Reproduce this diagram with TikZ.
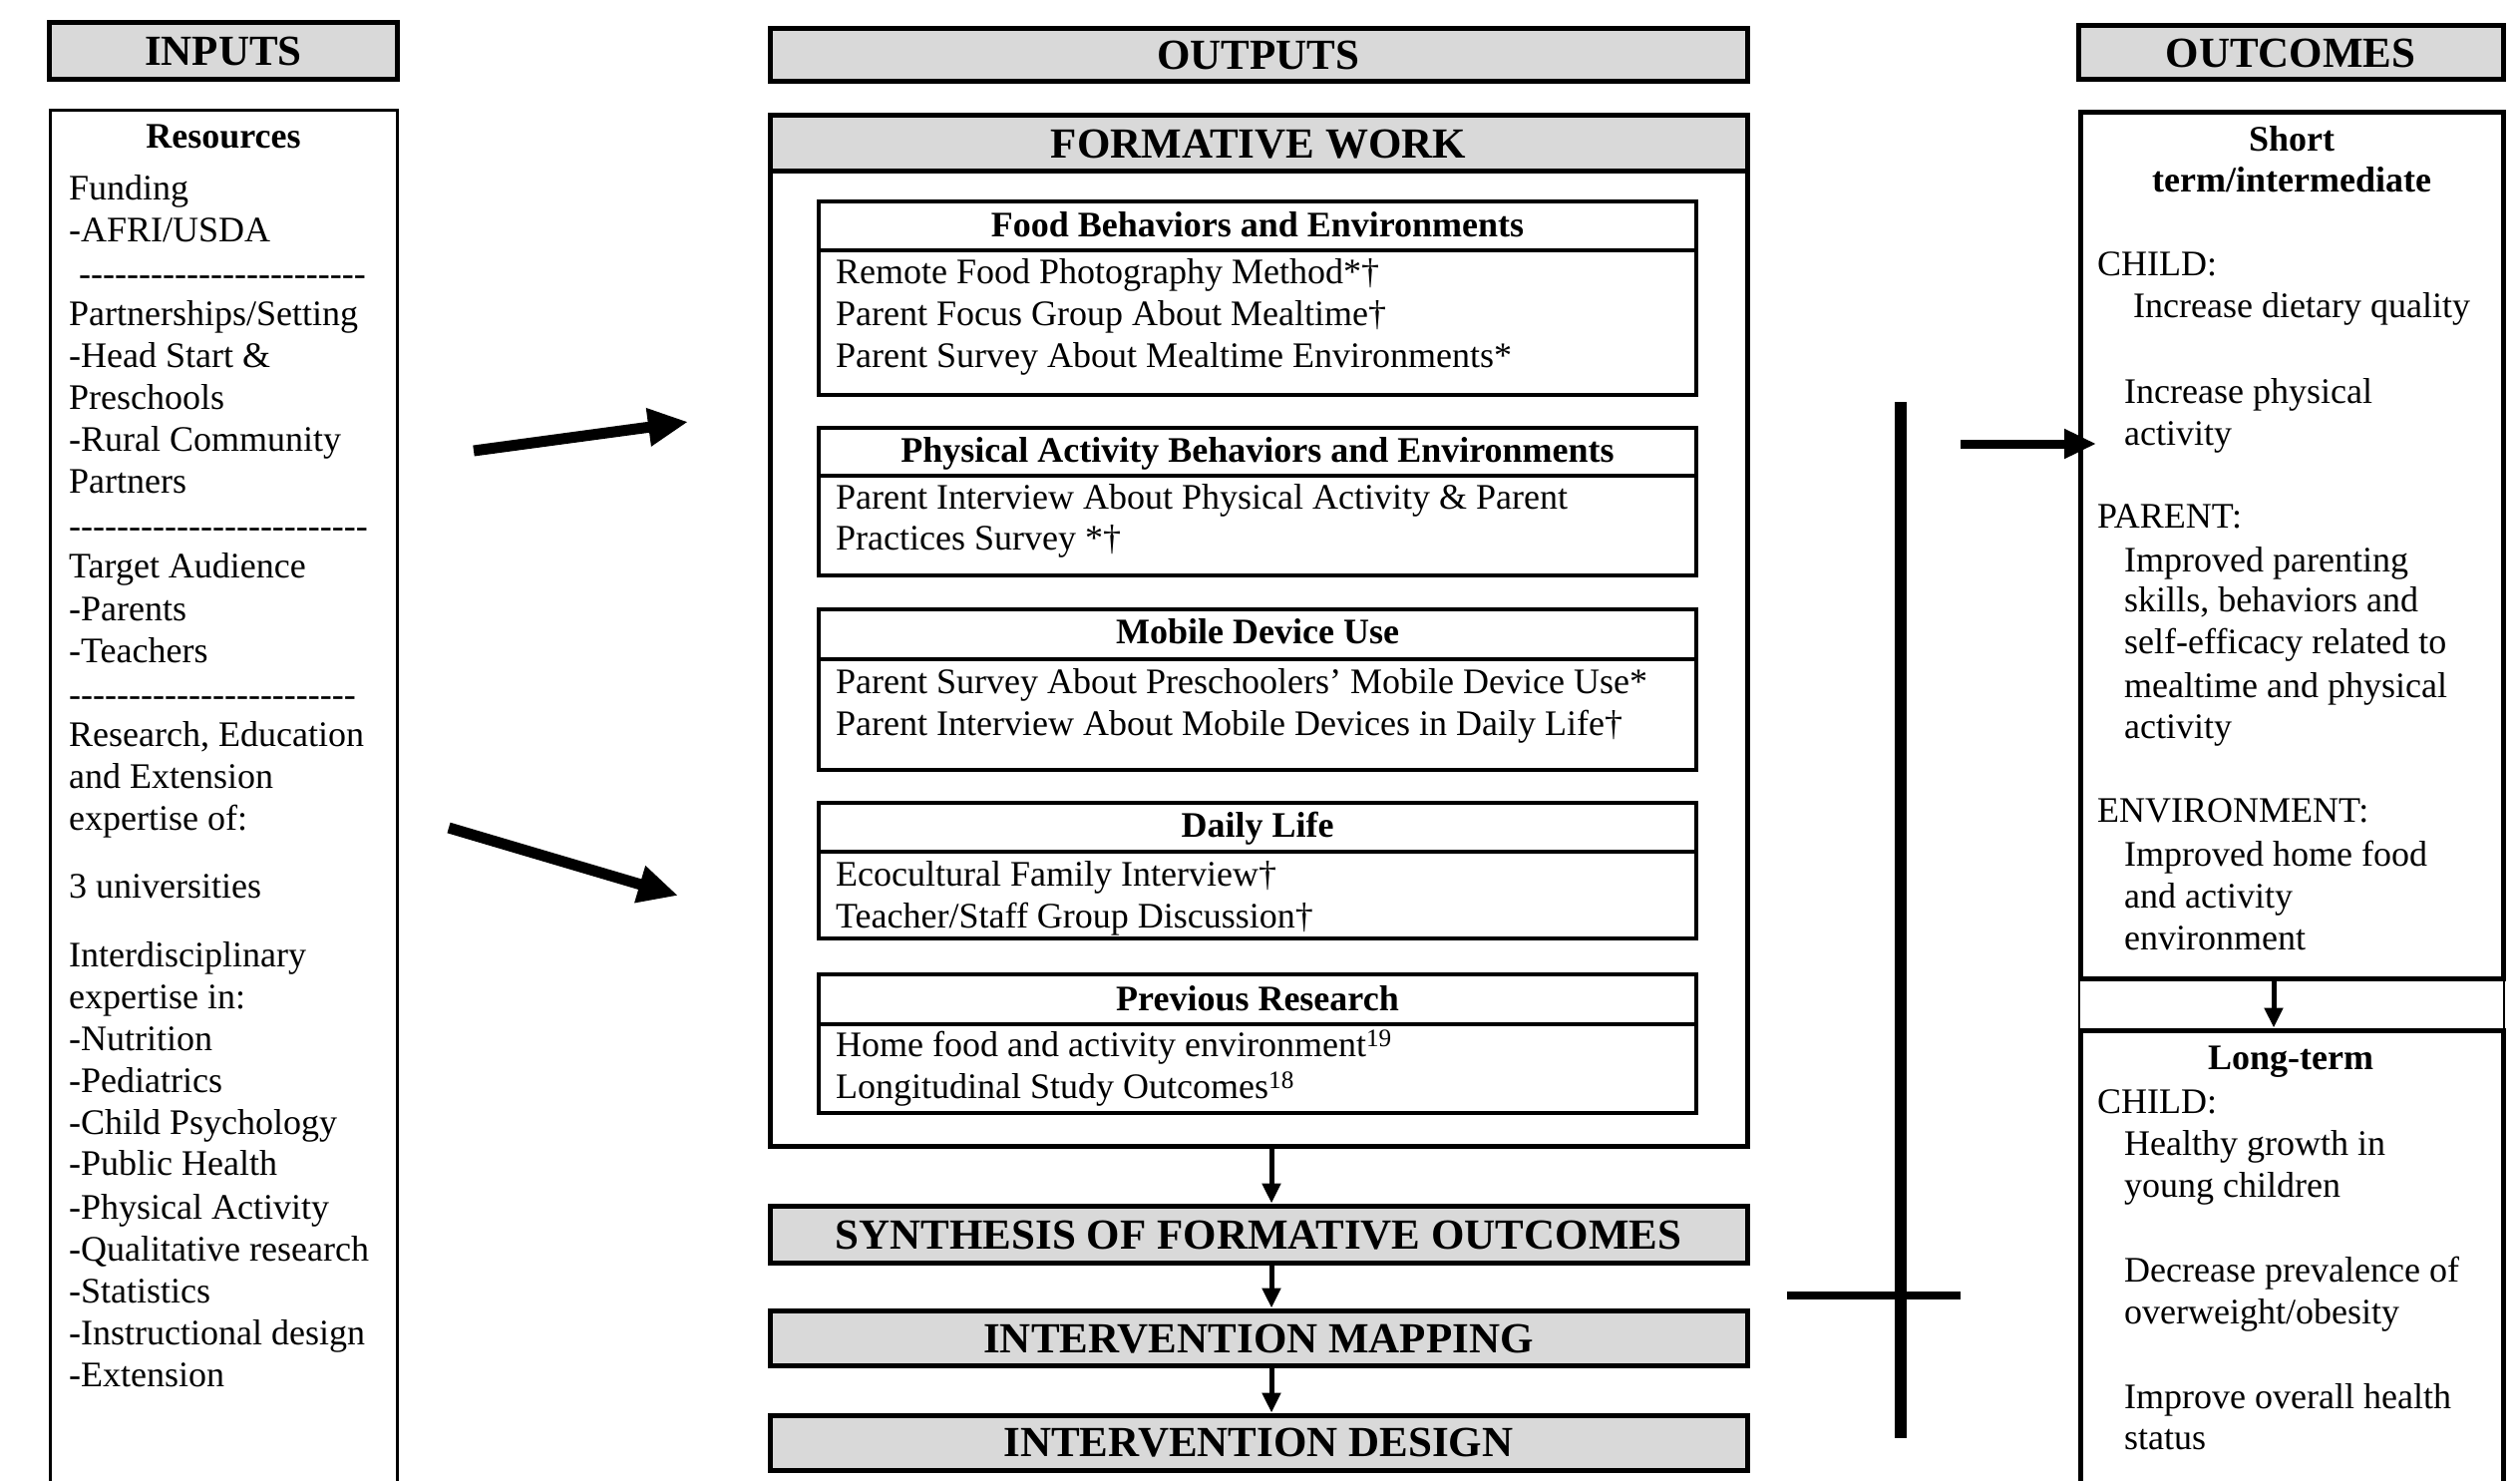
\documentclass[tikz,border=0pt]{standalone}
\usepackage{fontspec}
\setmainfont{Liberation Serif}[Ligatures=TeXOff]
\usetikzlibrary{arrows.meta}
\definecolor{hgray}{RGB}{217,217,217}
\newcommand\BOX[6]{\node[#2, minimum width={(#5)-(#3)}, minimum height={(#6)-(#4)}] (#1) at ({((#3)+(#5))/2},{((#4)+(#6))/2}) {};}
\newcommand\TL[3]{\node[txt] (#1) at #2 {#3};}
\begin{document}
\begin{tikzpicture}[x=1pt,y=-1pt,
  txt/.style={font=\fontsize{36}{42}\selectfont, inner sep=0pt, anchor=base west},
  btxt/.style={font=\fontsize{36}{42}\selectfont\bfseries, inner sep=0pt, anchor=base},
  htxt/.style={font=\fontsize{43}{50}\selectfont\bfseries, inner sep=0pt, anchor=base},
  hbox/.style={draw, line width=5pt, fill=hgray, inner sep=0pt},
  obox/.style={draw, line width=5pt, inner sep=0pt},
  sbox/.style={draw, line width=4pt, inner sep=0pt},
  bigarr/.style={line width=11pt, -{Triangle[length=40pt,width=36pt]}},
  midarr/.style={line width=9pt, -{Triangle[length=32pt,width=28pt]}},
  smarr/.style={line width=5pt, -{Triangle[length=20pt,width=18pt]}},
]
\useasboundingbox[fill=white] (0,0) rectangle (2527,1485);

% ---------------- INPUTS ----------------
\BOX{inh}{hbox}{49}{23}{398}{80}
\node[htxt] (inT) at (224,66) {INPUTS};
\BOX{res}{obox,line width=3pt}{50}{111}{398}{1530}
\node[btxt] (resT) at (224,149) {Resources};
\TL{i1}{(69,200)}{Funding}
\TL{i2}{(69,242)}{-AFRI/USDA}
\TL{d1}{(79,286)}{------------------------}
\TL{i3}{(69,326)}{Partnerships/Setting}
\TL{i4}{(69,368)}{-Head Start \&}
\TL{i5}{(69,410)}{Preschools}
\TL{i6}{(69,452)}{-Rural Community}
\TL{i7}{(69,494)}{Partners}
\TL{d2}{(69,539)}{-------------------------}
\TL{i8}{(69,579)}{Target Audience}
\TL{i9}{(69,622)}{-Parents}
\TL{i10}{(69,664)}{-Teachers}
\TL{d3}{(69,708)}{------------------------}
\TL{i11}{(69,748)}{Research, Education}
\TL{i12}{(69,790)}{and Extension}
\TL{i13}{(69,832)}{expertise of:}
\TL{i14}{(69,900)}{3 universities}
\TL{i15}{(69,969)}{Interdisciplinary}
\TL{i16}{(69,1011)}{expertise in:}
\TL{i17}{(69,1053)}{-Nutrition}
\TL{i18}{(69,1095)}{-Pediatrics}
\TL{i19}{(69,1137)}{-Child Psychology}
\TL{i20}{(69,1178)}{-Public Health}
\TL{i21}{(69,1222)}{-Physical Activity}
\TL{i22}{(69,1264)}{-Qualitative research}
\TL{i23}{(69,1306)}{-Statistics}
\TL{i24}{(69,1348)}{-Instructional design}
\TL{i25}{(69,1390)}{-Extension}

% ---------------- OUTPUTS ----------------
\BOX{outh}{hbox}{772}{29}{1752}{82}
\node[htxt] (outT) at (1262,70) {OUTPUTS};
\BOX{fwh}{hbox}{772}{116}{1752}{171}
\BOX{fw}{obox}{772}{116}{1752}{1149}
\node[htxt] (fwT) at (1262,158) {FORMATIVE WORK};

\BOX{foodT}{sbox}{821}{202}{1701}{251}
\BOX{foodB}{sbox}{821}{251}{1701}{396}
\node[btxt] (foodH) at (1261,237) {Food Behaviors and Environments};
\TL{f1}{(838,284)}{Remote Food Photography Method*†}
\TL{f2}{(838,326)}{Parent Focus Group About Mealtime†}
\TL{f3}{(838,368)}{Parent Survey About Mealtime Environments*}

\BOX{paT}{sbox}{821}{429}{1701}{477}
\BOX{paB}{sbox}{821}{477}{1701}{577}
\node[btxt] (paH) at (1261,463) {Physical Activity Behaviors and Environments};
\TL{p1}{(838,510)}{Parent Interview About Physical Activity \& Parent}
\TL{p2}{(838,551)}{Practices Survey *†}

\BOX{mdT}{sbox}{821}{611}{1701}{661}
\BOX{mdB}{sbox}{821}{661}{1701}{772}
\node[btxt] (mdH) at (1261,645) {Mobile Device Use};
\TL{m1}{(838,695)}{Parent Survey About Preschoolers’ Mobile Device Use*}
\TL{m2}{(838,737)}{Parent Interview About Mobile Devices in Daily Life†}

\BOX{dlT}{sbox}{821}{805}{1701}{854}
\BOX{dlB}{sbox}{821}{854}{1701}{941}
\node[btxt] (dlH) at (1261,839) {Daily Life};
\TL{l1}{(838,888)}{Ecocultural Family Interview†}
\TL{l2}{(838,930)}{Teacher/Staff Group Discussion†}

\BOX{prT}{sbox}{821}{977}{1701}{1027}
\BOX{prB}{sbox}{821}{1027}{1701}{1116}
\node[btxt] (prH) at (1261,1013) {Previous Research};
\TL{r1}{(838,1059)}{Home food and activity environment\textsuperscript{19}}
\TL{r2}{(838,1101)}{Longitudinal Study Outcomes\textsuperscript{18}}

\BOX{syn}{hbox}{772}{1209}{1752}{1266}
\node[htxt] (synT) at (1262,1252) {SYNTHESIS OF FORMATIVE OUTCOMES};
\BOX{map}{hbox}{772}{1314}{1752}{1369}
\node[htxt] (mapT) at (1262,1356) {INTERVENTION MAPPING};
\BOX{des}{hbox}{772}{1419}{1752}{1474}
\node[htxt] (desT) at (1262,1460) {INTERVENTION DESIGN};

\draw[smarr] ([xshift=13pt]fw.south) -- ([xshift=13pt]syn.north);
\draw[smarr] ([xshift=13pt]syn.south) -- ([xshift=13pt]map.north);
\draw[smarr] ([xshift=13pt]map.south) -- ([xshift=13pt]des.north);

% ---------------- OUTCOMES ----------------
\BOX{ouch}{hbox}{2084}{26}{2510}{80}
\node[htxt] (ocT) at (2297,68) {OUTCOMES};
\BOX{band}{draw,line width=2pt,inner sep=0pt}{2085}{981}{2511}{1033}
\BOX{st}{obox}{2086}{113}{2510}{981}
\BOX{lt}{obox}{2086}{1033}{2510}{1530}
\draw[smarr] (st.south -| 2280,0) -- (lt.north -| 2280,0);

\node[btxt] (stH1) at (2298,151) {Short};
\node[btxt] (stH2) at (2298,192) {term/intermediate};
\TL{o1}{(2103,276)}{CHILD:}
\TL{o2}{(2139,318)}{Increase dietary quality}
\TL{o3}{(2130,404)}{Increase physical}
\TL{o4}{(2130,446)}{activity}
\TL{o5}{(2103,529)}{PARENT:}
\TL{o6}{(2130,573)}{Improved parenting}
\TL{o7}{(2130,613)}{skills, behaviors and}
\TL{o8}{(2130,655)}{self-efficacy related to}
\TL{o9}{(2130,699)}{mealtime and physical}
\TL{o10}{(2130,740)}{activity}
\TL{o11}{(2103,824)}{ENVIRONMENT:}
\TL{o12}{(2130,868)}{Improved home food}
\TL{o13}{(2130,910)}{and activity}
\TL{o14}{(2130,952)}{environment}

\node[btxt] (ltH) at (2297,1072) {Long-term};
\TL{q1}{(2103,1116)}{CHILD:}
\TL{q2}{(2130,1158)}{Healthy growth in}
\TL{q3}{(2130,1200)}{young children}
\TL{q4}{(2130,1285)}{Decrease prevalence of}
\TL{q5}{(2130,1327)}{overweight/obesity}
\TL{q6}{(2130,1412)}{Improve overall health}
\TL{q7}{(2130,1453)}{status}

% ---------------- connectors ----------------
\coordinate (a1s) at (475,452);
\coordinate (a1e) at (690,423);
\coordinate (a2s) at (450,830);
\coordinate (a2e) at (680,898);
\coordinate (a3s) at (1966,445);
\coordinate (a3e) at (2102,445);
\draw[bigarr] (a1s) -- (a1e);
\draw[bigarr] (a2s) -- (a2e);
\draw[midarr] (a3s) -- (a3e);

\coordinate (vt) at (1906,403);
\coordinate (vb) at (1906,1442);
\coordinate (hl) at (1792,1299);
\coordinate (hr) at (1966,1299);
\draw[line width=12pt] (vt) -- (vb);
\draw[line width=8pt] (hl) -- (hr);
\end{tikzpicture}
\end{document}
